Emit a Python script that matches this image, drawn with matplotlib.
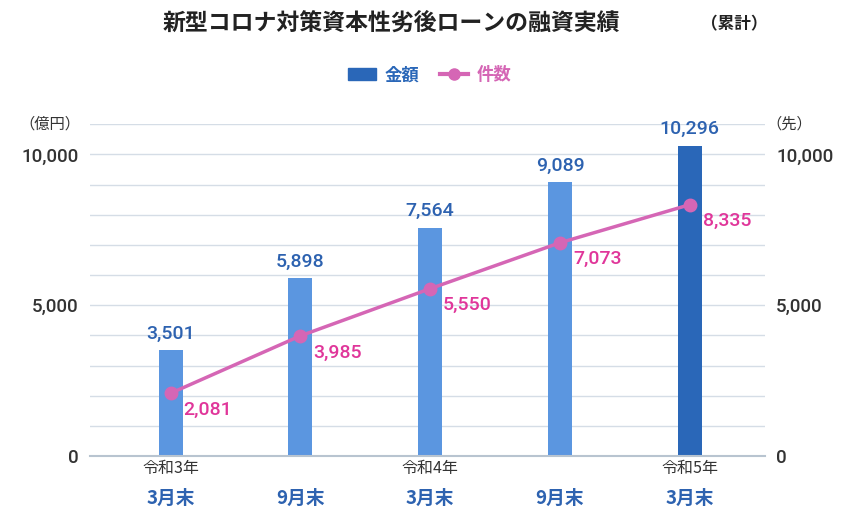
import matplotlib
matplotlib.use("Agg")
import matplotlib.pyplot as plt
from matplotlib.lines import Line2D
from matplotlib.patches import Patch

plt.rcParams["font.family"] = ["Roboto", "Noto Sans CJK JP"]

periods_top = ["令和3年", "", "令和4年", "", "令和5年"]
periods_bottom = ["3月末", "9月末", "3月末", "9月末", "3月末"]
amount = [3501, 5898, 7564, 9089, 10296]
count = [2081, 3985, 5550, 7073, 8335]

JP = "Noto Sans CJK JP"
fig = plt.figure(figsize=(8.6, 5.2), dpi=100)
ax = fig.add_axes([0.1047, 0.123, 0.785, 0.638])
ax2 = ax.twinx()
x = list(range(len(amount)))
bar_colors = ["#5b96e0"] * 4 + ["#2a67b8"]
ax.bar(x, amount, width=0.185, color=bar_colors, zorder=2)
ax.set_ylim(0, 11000)
ax2.set_ylim(0, 11000)
ax.set_xlim(-0.62, 4.58)
ax.set_yticks(range(0, 11001, 1000))
ax.set_yticklabels(["0" if v == 0 else (f"{v:,}" if v % 5000 == 0 else "") for v in range(0, 11001, 1000)])
ax.grid(axis="y", color="#d5dde6", lw=1, zorder=0)
ax2.set_yticks([0, 5000, 10000])
ax2.set_yticklabels(["0", "5,000", "10,000"])
for a in (ax, ax2):
    for s in a.spines.values():
        s.set_visible(False)
    a.tick_params(length=0, labelsize=13.5, colors="#333333", pad=8)
    for t in a.get_yticklabels():
        t.set_fontweight("medium")
ax.spines["bottom"].set_visible(True)
ax.spines["bottom"].set_color("#b8c4d0")
ax.spines["bottom"].set_linewidth(1.5)
ax.set_xticks(x)
ax.set_xticklabels([])
for i in x:
    ax.text(i, -420, periods_top[i], ha="center", va="center", fontsize=11.5, color="#333333", family=JP)
    ax.text(i, -1400, periods_bottom[i], ha="center", va="center", fontsize=13.5, color="#2d62b0", fontweight="bold", family=JP)
    ax.text(i, amount[i] + 250, f"{amount[i]:,}", ha="center", va="bottom", fontsize=14, color="#2d62b0", fontweight="medium")
ax2.plot(x, count, color="#d566b5", lw=2.5, marker="o", ms=9, zorder=3)
for i in x:
    ax2.text(i + 0.1, count[i] - 250, f"{count[i]:,}", ha="left", va="top", fontsize=14, color="#e0369a", fontweight="medium")
ax.text(-0.06, 1.0, "（億円）", transform=ax.transAxes, ha="center", va="center", fontsize=11, color="#333333", family=JP)
ax.text(1.035, 1.0, "（先）", transform=ax.transAxes, ha="center", va="center", fontsize=11, color="#333333", family=JP)
fig.text(0.455, 0.955, "新型コロナ対策資本性劣後ローンの融資実績", ha="center", va="center", fontsize=16.5, fontweight="bold", color="#222222", family=JP)
fig.text(0.815, 0.953, "（累計）", ha="left", va="center", fontsize=12, fontweight="bold", color="#222222", family=JP)
handles = [Patch(color="#2a67b8"), Line2D([0], [0], color="#d566b5", lw=3, marker="o", ms=8)]
leg = fig.legend(handles, ["金額", "件数"], loc="center", bbox_to_anchor=(0.5, 0.855), ncol=2, frameon=False,
                 prop={"family": JP, "size": 12.5, "weight": "bold"}, handlelength=1.6, columnspacing=1.2, handletextpad=0.5)
for t, c in zip(leg.get_texts(), ["#2a67b8", "#d566b5"]):
    t.set_color(c)
fig.savefig("out.png", dpi=100)
